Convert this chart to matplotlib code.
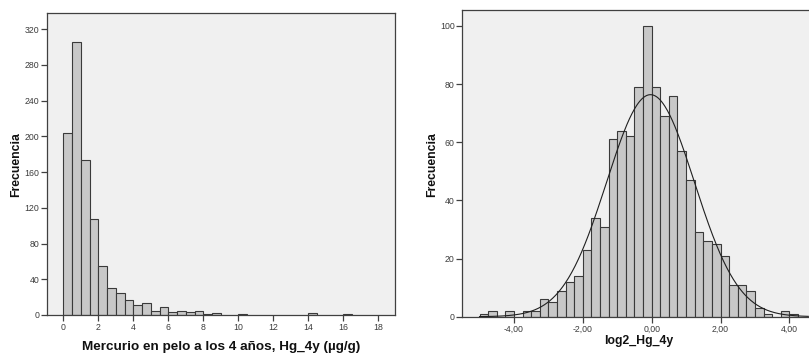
import numpy as np
import matplotlib
matplotlib.use("Agg")
import matplotlib.pyplot as plt
from matplotlib.ticker import FuncFormatter

plt.rcParams["font.family"] = ["Liberation Sans", "DejaVu Sans"]

# Frecuencias del mercurio en pelo (bins de 0,5 µg/g desde 0)
hg_start = 0.0
hg_width = 0.5
hg_counts = [204, 305, 174, 107, 55, 30, 25, 17, 11, 13, 5, 9, 3, 4, 3, 4, 1, 2,
             0, 0, 1, 0, 0, 0, 0, 0, 0, 0, 2, 0, 0, 0, 1]

# Frecuencias de log2_Hg_4y (bins de 0,25 desde -5)
log_start = -5.0
log_width = 0.25
log_counts = [1, 2, 0, 2, 0, 2, 2, 6, 5, 9, 12, 14, 23, 34, 31, 61, 64, 62, 79,
              100, 79, 69, 76, 57, 47, 29, 26, 25, 21, 11, 11, 9, 3, 1, 0, 2, 1]

hg_ticks = [0, 2, 4, 6, 8, 10, 12, 14, 16, 18]
hg_yticks = [0, 40, 80, 120, 160, 200, 240, 280, 320]
log_ticks = [-4, -2, 0, 2, 4]
log_yticks = [0, 20, 40, 60, 80, 100]

bg = "#f0f0f0"
bar_face = "#c8c8c8"
bar_edge = "#3a3a3a"
axis_col = "#404040"
tick_col = "#3c3c3c"

W, H = 809, 356
fig = plt.figure(figsize=(W / 100, H / 100), dpi=100)


def px_axes(left, top, right, bottom):
    return fig.add_axes([left / W, 1 - bottom / H, (right - left) / W, (bottom - top) / H])


def style(ax):
    ax.set_facecolor(bg)
    for s in ax.spines.values():
        s.set_color(axis_col)
        s.set_linewidth(0.9)
    ax.tick_params(direction="out", length=4, width=0.9, color=axis_col,
                   labelsize=6.3, labelcolor=tick_col, pad=1.5)


def draw_bars(ax, start, width, counts):
    counts = np.asarray(counts)
    edges = start + width * np.arange(len(counts))
    keep = counts > 0
    ax.bar(edges[keep], counts[keep], width=width, align="edge",
           color=bar_face, edgecolor=bar_edge, linewidth=0.8, zorder=2)
    return edges + width / 2, counts


# --- histograma de Hg_4y ---
ax1 = px_axes(47, 13, 395, 315)
style(ax1)
draw_bars(ax1, hg_start, hg_width, hg_counts)
ax1.set_xlim(-0.93, 18.95)
ax1.set_ylim(0, 338)
ax1.set_xticks(hg_ticks)
ax1.set_yticks(hg_yticks)
fig.text(16 / W, 1 - 165 / H, "Frecuencia", rotation=90, ha="center", va="center",
         fontsize=8.8, fontweight="bold", color="#111111")
fig.text(221 / W, 1 - 347 / H, "Mercurio en pelo a los 4 años, Hg_4y (µg/g)",
         ha="center", va="center", fontsize=9.7, fontweight="bold", color="#111111")

# --- histograma de log2_Hg_4y con curva normal ---
ax2 = px_axes(462.3, 10, 830, 316.7)
style(ax2)
mids, counts = draw_bars(ax2, log_start, log_width, log_counts)
n = counts.sum()
mu = (mids * counts).sum() / n
sd = np.sqrt((counts * (mids - mu) ** 2).sum() / (n - 1))
xs = np.linspace(log_start, log_start + log_width * len(log_counts) + 0.3, 400)
ys = n * log_width * np.exp(-0.5 * ((xs - mu) / sd) ** 2) / (sd * np.sqrt(2 * np.pi))
ax2.plot(xs, ys, color="#202020", linewidth=0.8, zorder=3)
ax2.set_xlim(-5.5, 5.18)
ax2.set_ylim(0, 105.5)
ax2.set_xticks(log_ticks)
ax2.set_yticks(log_yticks)
ax2.xaxis.set_major_formatter(FuncFormatter(lambda v, p: f"{v:.2f}".replace(".", ",")))
fig.text(431.7 / W, 1 - 165 / H, "Frecuencia", rotation=90, ha="center", va="center",
         fontsize=8.8, fontweight="bold", color="#111111")
fig.text(638.5 / W, 1 - 341 / H, "log2_Hg_4y", ha="center", va="center",
         fontsize=8.8, fontweight="bold", color="#111111")

fig.savefig("out.png", dpi=100, facecolor="white")
